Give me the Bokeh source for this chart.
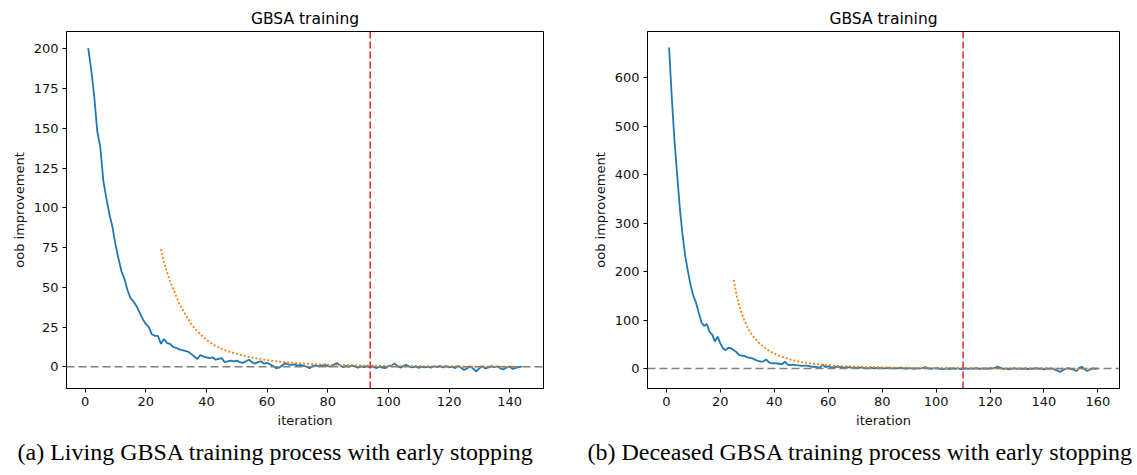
from bokeh.plotting import figure
from bokeh.layouts import row
from bokeh.models import FixedTicker, Span, Title, Range1d
from bokeh.embed import file_html
from bokeh.resources import INLINE

# ---------------- data: Living ----------------
living_iter = list(range(1, 145))
living_improve = [
    200.5, 187, 170, 148, 138, 117, 106, 96, 88, 77,
    68, 60, 55, 48, 43, 41, 38, 34, 30, 27,
    25, 20.5, 19.5, 19.5, 14.5, 17.5, 15, 14.5, 12.5, 12,
    11, 10.5, 10, 9.5, 8, 6.5, 5, 7.5, 6.5, 6,
    5.5, 6, 4.5, 5, 5.5, 3, 3.5, 4, 3.5, 4,
    3, 2.5, 3.5, 4.5, 3, 2, 3, 3.5, 2, 2.5,
    1.5, 0.5, -0.8, -0.5, 1, 2.2, 1.5, 1.2, 1.6, 0.8,
    1.2, 0.6, 0.2, -0.9, 0.5, 1, 0.3, 0.8, 1.4, 0.5,
    0.2, 1.5, 2.4, 1, -0.2, 0.6, 0.2, 0.8, 0.3, -0.5,
    0.4, -0.2, 0.5, -0.3, 0.3, -0.8, 0.2, -0.5, -0.8, 0.5,
    0.8, 2.2, 0.6, -0.5, 0.8, 1.2, 0.2, -0.4, 0.3, -0.6,
    0.1, -0.3, 0.2, -0.5, 0.4, -0.2, 0.6, -0.4, 0.5, -0.3,
    0.2, -0.8, 0.6, -0.5, -2, -0.8, 0.3, -1.2, -2.9, -0.9,
    0.4, -1, -0.3, 0.5, -0.2, 0.3, -1.1, -1.5, -0.4, 0.2,
    -1.3, -0.6, -0.2, 0.2,
]
living_smooth_iter = [25, 26, 27, 28, 29, 30, 31, 32, 33, 34, 35, 36, 38, 40, 42, 44, 46,
                      50, 55, 60, 65, 70, 75, 80, 90, 100, 110, 120, 130, 143]
living_smooth = [74, 66, 59.5, 54, 49, 44.5, 40, 36.5, 33, 30, 27, 24.5, 20.5, 17, 14.3, 12.2, 10.5,
                 8.2, 5.8, 4.2, 3.1, 2.3, 1.8, 1.4, 0.9, 0.6, 0.4, 0.25, 0.15, 0.05]
living_stop = 94
living_xticks = [0, 20, 40, 60, 80, 100, 120, 140]
living_yticks = [0, 25, 50, 75, 100, 125, 150, 175, 200]

# ---------------- data: Deceased ----------------
deceased_iter = list(range(1, 161))
deceased_improve = [
    662, 560, 470, 400, 330, 275, 232, 200, 172, 150,
    136, 115, 95, 88, 92, 76, 70, 56, 66, 52,
    42, 38, 43, 42, 38, 34, 28, 27, 26, 23,
    22, 21, 18, 16, 14.5, 15, 19, 13, 11, 11.5,
    10.5, 10, 9.5, 14.5, 8, 7.5, 8, 7, 6.5, 5.5,
    6, 6, 5, 3.5, 4, 3, 2.5, 8, 3, 4.5,
    3, 2.5, 4, 3.5, 3, 2, 3, 2.5, 1.5, 2,
    1, 2.5, 1.5, 0.5, 1, 2, 0.5, 1.5, 0.8, 1.2,
    0.5, 1.5, 0.8, 0.3, 1, 0.5, 1.8, 0.6, 0.2, 1,
    0.4, -0.5, 0.8, 0.3, 1.2, 3, 0.5, -0.3, 0.6, 1,
    0.2, -1, -0.5, 0.3, -0.8, 0.4, -0.3, 0.8, -1.2, -0.5,
    0.3, -0.6, 0.5, -0.2, 0.8, -0.4, 0.2, 0.6, -0.3, 1,
    0.4, 2, 4, 1, -0.5, 0.6, -1.5, -0.4, 0.8, -0.6,
    0.3, -1, 0.5, -0.8, 0.2, -0.5, 1, -0.3, 0.4, -1.5,
    0.6, -0.8, 0.3, -2, -4, -7, -3, -0.5, 0.8, -1,
    -2, -5, 1, 4, -1, -5, -2, 0.5, -0.5, 0.3,
]
deceased_smooth_iter = [25, 26, 27, 28, 29, 30, 31, 32, 33, 34, 36, 38, 40, 42, 44, 46,
                        50, 55, 60, 65, 70, 75, 80, 90, 100, 110, 120, 130, 140, 150, 160]
deceased_smooth = [183, 152, 130, 113, 98, 86, 76, 68, 61, 55, 45, 37, 31, 26, 22, 18.5,
                   13.5, 9.5, 7, 5.2, 4, 3.2, 2.6, 1.7, 1.1, 0.8, 0.5, 0.3, 0.2, 0.1, 0.05]
deceased_stop = 110
deceased_xticks = [0, 20, 40, 60, 80, 100, 120, 140, 160]
deceased_yticks = [0, 100, 200, 300, 400, 500, 600]

BLUE = "#1f77b4"
ORANGE = "#ff7f0e"
RED = "#d62728"
FONT = "DejaVu Sans"


def make_panel(x, y, sx, sy, stop, xticks, yticks, xr, yr, caption, width,
               mb_left, mb_right, cap_offset):
    p = figure(width=width, height=475, output_backend="svg", toolbar_location=None,
               x_range=Range1d(*xr), y_range=Range1d(*yr),
               min_border_left=mb_left, min_border_right=mb_right,
               min_border_top=31, min_border_bottom=87)
    p.title.text = "GBSA training"
    p.title.align = "center"
    p.title.text_font = FONT
    p.title.text_font_style = "normal"
    p.title.text_font_size = "15.5px"
    p.title.text_color = "#000000"
    p.title.standoff = 7
    p.outline_line_color = "black"
    p.outline_line_alpha = 1
    p.outline_line_width = 1
    p.grid.visible = False
    p.background_fill_color = "white"
    p.border_fill_color = "white"
    for ax in (p.xaxis[0], p.yaxis[0]):
        ax.axis_line_color = "black"
        ax.major_tick_out = 4
        ax.major_tick_in = 0
        ax.minor_tick_line_color = None
        ax.major_tick_line_color = "black"
        ax.major_label_text_font = FONT
        ax.major_label_text_font_size = "13px"
        ax.major_label_text_color = "#111111"
        ax.axis_label_text_font = FONT
        ax.axis_label_text_font_size = "13px"
        ax.axis_label_text_font_style = "normal"
        ax.axis_label_text_color = "#111111"
        ax.major_label_standoff = 4
        ax.axis_label_standoff = 4
    p.xaxis.ticker = FixedTicker(ticks=xticks)
    p.yaxis.ticker = FixedTicker(ticks=yticks)
    p.xaxis.axis_label = "iteration"
    p.yaxis.axis_label = "oob improvement"

    p.line(x, y, line_color=BLUE, line_width=1.8)
    p.line(sx, sy, line_color=ORANGE, line_width=1.8, line_dash="2 2")
    p.add_layout(Span(location=0, dimension="width", line_color="gray",
                      line_dash="8 4", line_width=1.5))
    p.add_layout(Span(location=stop, dimension="height", line_color=RED,
                      line_dash="7 3", line_width=1.5))
    cap = Title(text=caption, align="left", offset=cap_offset,
                text_font="Liberation Serif", text_font_size="24px",
                text_font_style="normal", text_color="black", standoff=12)
    p.add_layout(cap, "below")
    return p


p1 = make_panel(living_iter, living_improve, living_smooth_iter, living_smooth,
                living_stop, living_xticks, living_yticks,
                (-6.15, 151.15), (-13.6, 210.9),
                "(a) Living GBSA training process with early stopping",
                580, 66, 37, -49)
p2 = make_panel(deceased_iter, deceased_improve, deceased_smooth_iter, deceased_smooth,
                deceased_stop, deceased_xticks, deceased_yticks,
                (-7.0, 168.0), (-41.0, 695.0),
                "(b) Deceased GBSA training process with early stopping",
                557, 67, 18, -60)

layout = row(p1, p2)
open("out.html", "w").write(file_html(layout, INLINE))
